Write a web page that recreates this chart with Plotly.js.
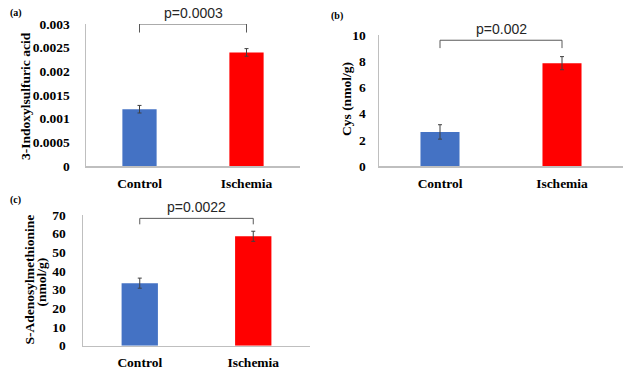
<!DOCTYPE html>
<html>
<head>
<meta charset="utf-8">
<script src="https://cdn.plot.ly/plotly-3.0.1.min.js"></script>
<style>html,body{margin:0;padding:0;background:#fff;}#chart{width:632px;height:370px;}</style>
</head>
<body>
<div id="chart"></div>
<script>
// Data
const categories = ["Control", "Ischemia"];
const indoxylValues = [0.0012, 0.0024];
const indoxylErrors = [0.00008, 0.00008];
const cysValues = [2.6, 7.85];
const cysErrors = [0.55, 0.5];
const samValues = [33.5, 58.6];
const samErrors = [2.7, 2.7];
const pLabels = ["p=0.0003", "p=0.002", "p=0.0022"];
const panelLabels = ["(a)", "(b)", "(c)"];
const yTitleLines = [["3-Indoxylsulfuric acid"], ["Cys (nmol/g)"], ["S-Adenosylmethionine", "(nmol/g)"]];
const bracketTops = [0.003, 9.6, 68.2];
const bracketBottoms = [0.00282, 9.0, 65.0];

const barColors = ["#4472C4", "#FF0000"];
const serif = "Liberation Serif";
const sans = "Liberation Sans";
const fs = 13.5;

function barTrace(vals, errs, xa, ya) {
  return {
    type: "bar", x: categories, y: vals, xaxis: xa, yaxis: ya,
    width: 0.32,
    marker: {color: barColors, line: {width: 0}},
    error_y: {type: "data", array: errs, visible: true, color: "#404040", thickness: 1, width: 2},
    hoverinfo: "skip", showlegend: false
  };
}

const data = [
  barTrace(indoxylValues, indoxylErrors, "x", "y"),
  barTrace(cysValues, cysErrors, "x2", "y2"),
  barTrace(samValues, samErrors, "x3", "y3")
];

function xax(domain, anchor) {
  return {
    domain: domain, anchor: anchor, type: "category", range: [-0.5, 1.5],
    showline: true, linecolor: "#bfbfbf", linewidth: 1.5, showgrid: false, zeroline: false,
    ticks: "", ticklabelstandoff: 4,
    tickfont: {family: serif, size: fs, color: "#000", weight: "bold"}, fixedrange: true
  };
}
function yax(domain, anchor, range, dtick, tls) {
  return {
    domain: domain, anchor: anchor, range: range, dtick: dtick, tick0: 0,
    showline: true, linecolor: "#bfbfbf", linewidth: 1.5, showgrid: false, zeroline: false,
    ticks: "", ticklabelstandoff: tls,
    tickfont: {family: serif, size: fs, color: "#000", weight: "bold"},
    fixedrange: true
  };
}

const layout = {
  width: 632, height: 370,
  margin: {l: 0, r: 0, t: 0, b: 0},
  paper_bgcolor: "#fff", plot_bgcolor: "#fff",
  showlegend: false,
  xaxis: xax([86/632, 300/632], "y"),
  yaxis: yax([(370-166)/370, (370-24)/370], "x", [0, 0.003], 0.0005, 12),
  xaxis2: xax([379/632, 623/632], "y2"),
  yaxis2: yax([(370-166)/370, (370-35)/370], "x2", [0, 10], 2, 9),
  xaxis3: xax([83/632, 310/632], "y3"),
  yaxis3: yax([(370-345.7)/370, (370-215)/370], "x3", [0, 70], 10, 13),
  shapes: [],
  annotations: []
};

const refs = [["x", "y"], ["x2", "y2"], ["x3", "y3"]];
refs.forEach(function(r, i) {
  const lineStyle = {color: "#595959", width: 1};
  layout.shapes.push(
    {type: "line", xref: r[0], yref: r[1], x0: categories[0], x1: categories[1], y0: bracketTops[i], y1: bracketTops[i], line: lineStyle},
    {type: "line", xref: r[0], yref: r[1], x0: categories[0], x1: categories[0], y0: bracketBottoms[i], y1: bracketTops[i], line: lineStyle},
    {type: "line", xref: r[0], yref: r[1], x0: categories[1], x1: categories[1], y0: bracketBottoms[i], y1: bracketTops[i], line: lineStyle}
  );
  layout.annotations.push({
    xref: r[0], yref: r[1], x: 0.5, y: bracketTops[i], yanchor: "bottom", xanchor: "center",
    text: pLabels[i], showarrow: false, yshift: 1,
    font: {family: sans, size: 14, color: "#262626"}
  });
});

// y-axis titles as rotated annotations
const titlePos = [[[25, 96]], [[347, 99]], [[28.5, 280], [40.5, 282]]];
yTitleLines.forEach(function(lines, i) {
  lines.forEach(function(t, j) {
    layout.annotations.push({
      xref: "paper", yref: "paper", x: titlePos[i][j][0]/632, y: 1 - titlePos[i][j][1]/370,
      xanchor: "center", yanchor: "middle", textangle: -90, text: t, showarrow: false,
      font: {family: serif, size: fs, color: "#000", weight: "bold"}
    });
  });
});

const panelPos = [[16, 13], [337, 16], [15, 200]];
panelLabels.forEach(function(t, i) {
  layout.annotations.push({
    xref: "paper", yref: "paper", x: panelPos[i][0]/632, y: 1 - panelPos[i][1]/370,
    xanchor: "center", yanchor: "middle", text: t, showarrow: false,
    font: {family: serif, size: 10, color: "#000", weight: "bold"}
  });
});

Plotly.newPlot("chart", data, layout, {displayModeBar: false, staticPlot: true});
</script>
</body>
</html>
